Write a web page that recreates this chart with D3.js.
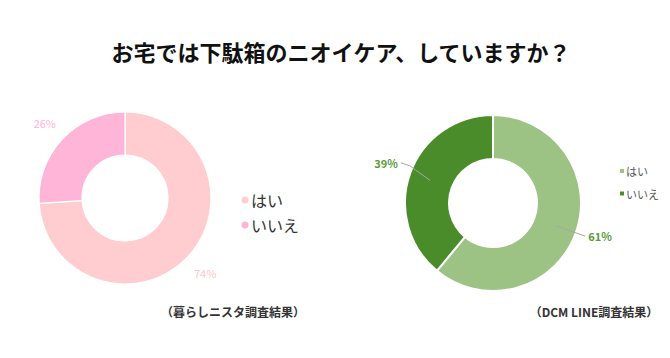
<!DOCTYPE html>
<html>
<head>
<meta charset="utf-8">
<script src="https://cdn.jsdelivr.net/npm/d3@7"></script>
<style>
  body { margin: 0; background: #fff; }
  svg { display: block; font-family: "Noto Sans CJK JP", "Noto Sans", sans-serif; }
</style>
</head>
<body>
<svg id="chart" width="670" height="358"></svg>
<script>
// お宅では下駄箱のニオイケア — two donut charts side by side
const categories = ["はい", "いいえ"];
const kurashiValues = [74, 26];   // 暮らしニスタ調査結果
const dcmValues = [61, 39];       // DCM LINE調査結果
const sources = ["（暮らしニスタ調査結果）", "（DCM LINE調査結果）"];

const svg = d3.select("#chart");

svg.append("text")
  .attr("x", 341).attr("y", 51)
  .attr("text-anchor", "middle").attr("dominant-baseline", "central")
  .attr("font-size", "22px").attr("font-weight", "bold").attr("fill", "#111")
  .text("お宅では下駄箱のニオイケア、していますか？");

const pie = d3.pie().sort(null).value(d => d);

// ---- left donut (pink) ----
(function () {
  const cx = 125, cy = 198, rOut = 86, rIn = 43;
  const color = d3.scaleOrdinal().domain(categories).range(["#ffcdd0", "#ffb5d8"]);
  const labelColor = d3.scaleOrdinal().domain(categories).range(["#ffc6cc", "#ffb3d6"]);
  const arc = d3.arc().innerRadius(rIn).outerRadius(rOut);
  const labelArc = d3.arc().innerRadius(110).outerRadius(110);
  const g = svg.append("g").attr("transform", `translate(${cx},${cy})`);
  const arcs = pie(kurashiValues);

  g.selectAll("path").data(arcs).join("path")
    .attr("d", arc)
    .attr("fill", (d, i) => color(categories[i]))
    .attr("stroke", "#fff").attr("stroke-width", 1.2);

  g.selectAll("text.lbl").data(arcs).join("text")
    .attr("class", "lbl")
    .attr("transform", d => `translate(${labelArc.centroid(d)})`)
    .attr("text-anchor", "middle").attr("dominant-baseline", "central")
    .attr("font-size", "11px").attr("fill", (d, i) => labelColor(categories[i]))
    .text(d => d.data + "%");

  const leg = svg.append("g").attr("transform", "translate(245,200)");
  categories.forEach((c, i) => {
    leg.append("circle").attr("cx", 0).attr("cy", i * 25).attr("r", 3.5).attr("fill", color(c));
    leg.append("text").attr("x", 6).attr("y", i * 25)
      .attr("dominant-baseline", "central")
      .attr("font-size", "16px").attr("fill", "#333").text(c);
  });
})();

// ---- right donut (green) ----
(function () {
  const cx = 493, cy = 203, rOut = 88, rIn = 44;
  const color = d3.scaleOrdinal().domain(categories).range(["#9cc284", "#4a8c2a"]);
  const arc = d3.arc().innerRadius(rIn).outerRadius(rOut);
  const midArc = d3.arc().innerRadius(67).outerRadius(67);
  const outArc = d3.arc().innerRadius(98).outerRadius(98);
  const g = svg.append("g").attr("transform", `translate(${cx},${cy})`);
  const arcs = pie(dcmValues);

  g.selectAll("path").data(arcs).join("path")
    .attr("d", arc)
    .attr("fill", (d, i) => color(categories[i]))
    .attr("stroke", "#fff").attr("stroke-width", 2);

  const side = d => ((d.startAngle + d.endAngle) / 2 < Math.PI ? 1 : -1);
  // left-side label sits a little higher than the radial end, as in the source
  const lift = d => (side(d) > 0 ? 0 : -7);

  g.selectAll("polyline").data(arcs).join("polyline")
    .attr("points", d => {
      const p1 = midArc.centroid(d), p2 = outArc.centroid(d);
      const knee = side(d) > 0 ? p2 : [p2[0] + 9, p2[1] - 4];
      const end = side(d) > 0 ? p2 : [p2[0], p2[1] + lift(d)];
      return [p1, knee, end];
    })
    .attr("fill", "none").attr("stroke", "#a6a6a6").attr("stroke-width", 1);

  g.selectAll("text.lbl").data(arcs).join("text")
    .attr("class", "lbl")
    .attr("x", d => outArc.centroid(d)[0] + side(d) * 3)
    .attr("y", d => outArc.centroid(d)[1] + lift(d))
    .attr("text-anchor", d => (side(d) > 0 ? "start" : "end"))
    .attr("dominant-baseline", "central")
    .attr("font-size", "11px").attr("font-weight", "bold").attr("fill", "#5a9a3a")
    .text(d => d.data + "%");

  const leg = svg.append("g").attr("transform", "translate(622,171)");
  categories.forEach((c, i) => {
    leg.append("rect").attr("x", -2).attr("y", i * 22.5 - 2).attr("width", 4).attr("height", 4).attr("fill", color(c));
    leg.append("text").attr("x", 4).attr("y", i * 22.5)
      .attr("dominant-baseline", "central")
      .attr("font-size", "11px").attr("fill", "#595959").text(c);
  });
})();

// ---- source captions ----
svg.selectAll("text.src").data(sources).join("text")
  .attr("class", "src")
  .attr("x", (d, i) => [233, 594][i]).attr("y", 311)
  .attr("text-anchor", "middle").attr("dominant-baseline", "central")
  .attr("font-size", "12px").attr("font-weight", "bold").attr("fill", "#333")
  .text(d => d);
</script>
</body>
</html>
